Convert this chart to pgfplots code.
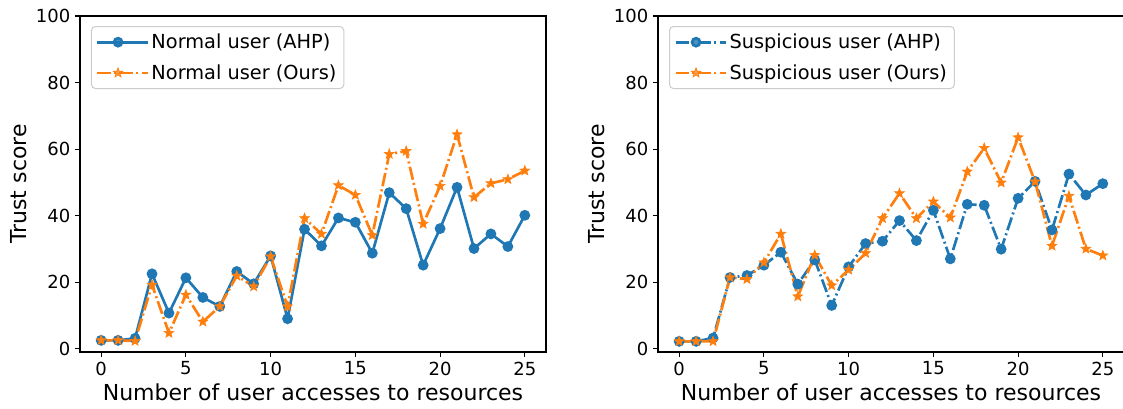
\documentclass[border=0pt]{standalone}
\usepackage{fontspec}
\setmainfont{DejaVu Sans}
\usepackage{pgfplots}
\pgfplotsset{compat=1.18}
\definecolor{tabblue}{HTML}{1F77B4}
\definecolor{taborange}{HTML}{FF7F0E}
\pgfdeclareplotmark{fstar}{%
  \pgfpathmoveto{\pgfpointpolar{90}{\pgfplotmarksize}}%
  \pgfpathlineto{\pgfpointpolar{126}{0.42\pgfplotmarksize}}%
  \pgfpathlineto{\pgfpointpolar{162}{\pgfplotmarksize}}%
  \pgfpathlineto{\pgfpointpolar{198}{0.42\pgfplotmarksize}}%
  \pgfpathlineto{\pgfpointpolar{234}{\pgfplotmarksize}}%
  \pgfpathlineto{\pgfpointpolar{270}{0.42\pgfplotmarksize}}%
  \pgfpathlineto{\pgfpointpolar{306}{\pgfplotmarksize}}%
  \pgfpathlineto{\pgfpointpolar{342}{0.42\pgfplotmarksize}}%
  \pgfpathlineto{\pgfpointpolar{18}{\pgfplotmarksize}}%
  \pgfpathlineto{\pgfpointpolar{54}{0.42\pgfplotmarksize}}%
  \pgfpathclose
  \pgfusepathqfillstroke}

\pgfplotstableread{
x nahp nours sahp sours
0 2.5 2.5 2.2 2.2
1 2.5 2.5 2.2 2.2
2 3.1 2.3 3.2 2.2
3 22.5 19.2 21.4 21.4
4 10.7 4.7 22.0 20.9
5 21.3 16.2 25.1 25.9
6 15.4 8.1 29.0 34.5
7 12.7 12.7 19.4 15.7
8 23.2 21.9 26.7 28.1
9 19.5 18.7 13.0 19.0
10 27.9 27.7 24.6 23.7
11 9.0 12.7 31.6 28.7
12 35.9 39.2 32.3 39.2
13 30.9 34.5 38.5 46.7
14 39.3 49.1 32.5 39.2
15 38.0 46.2 41.6 44.2
16 28.7 34.1 27.0 39.4
17 46.9 58.5 43.4 53.2
18 42.1 59.4 43.1 60.3
19 25.1 37.5 29.9 49.9
20 36.1 48.9 45.2 63.5
21 48.5 64.4 50.3 50.2
22 30.1 45.5 35.7 30.9
23 34.5 49.7 52.5 45.9
24 30.7 50.9 46.2 30.0
25 40.1 53.5 49.6 28.0
}\data

\pgfplotsset{
  mpl/.style={
    scale only axis, width=349.5pt, height=252pt,
    xmin=-1.25, xmax=26.25, ymin=-1, ymax=100,
    xtick={0,5,...,25}, ytick={0,20,...,100},
    tick align=outside, tick pos=left,
    major tick length=3.75pt,
    every tick/.style={line width=0.83pt, black},
    axis line style={line width=0.83pt},
    ticklabel style={font=\fontsize{13.5}{16}\selectfont},
    /pgf/number format/assume math mode=true,
    label style={font=\fontsize{16.5}{20}\selectfont},
    xlabel={Number of user accesses to resources},
    ylabel={Trust score},
    xlabel style={at={(axis description cs:0.5,0)}, anchor=base, yshift=-36pt},
    ylabel style={at={(axis description cs:-0.131,0.5)}, anchor=center, rotate=0},
    legend cell align=left,
    legend style={at={(0,1)}, anchor=north west, xshift=8.25pt, yshift=-7.5pt,
      draw=black!20, line width=0.75pt, rounded corners=3pt,
      fill=white, fill opacity=0.8, text opacity=1,
      font=\fontsize{14.5}{17}\selectfont, row sep=6.5pt, inner sep=3.5pt},
    legend image code/.code={%
      \path (0pt,0pt) -- (37.5pt,0pt);
      \draw[mark repeat=2,mark phase=2] plot coordinates {(0pt,0pt)(15.4pt,0pt)(30.8pt,0pt)};},
  },
  blueline/.style={color=tabblue, line width=2pt, mark=*, mark size=3pt, mark options={solid}},
  orangeline/.style={color=taborange, line width=2pt, mark=fstar, mark size=3.8pt, mark options={solid, line width=0.5pt},
    dash pattern=on 10pt off 2.5pt on 1.5pt off 2.5pt},
  dashdot/.style={dash pattern=on 10pt off 2.5pt on 1.5pt off 2.5pt},
}

\begin{document}
\begin{tikzpicture}
\begin{axis}[mpl, name=L, at={(0pt,0pt)}, anchor=south west]
\addplot[blueline] table[x=x, y=nahp] {\data};
\addlegendentry{Normal user (AHP)}
\addplot[orangeline] table[x=x, y=nours] {\data};
\addlegendentry{Normal user (Ours)}
\end{axis}
\begin{axis}[mpl, name=R, at={(433.5pt,0pt)}, anchor=south west]
\addplot[blueline, dashdot] table[x=x, y=sahp] {\data};
\addlegendentry{Suspicious user (AHP)}
\addplot[orangeline] table[x=x, y=sours] {\data};
\addlegendentry{Suspicious user (Ours)}
\end{axis}
\pgfresetboundingbox
\path (-60pt,-42pt) rectangle (782.25pt,264pt);
\end{tikzpicture}
\end{document}
